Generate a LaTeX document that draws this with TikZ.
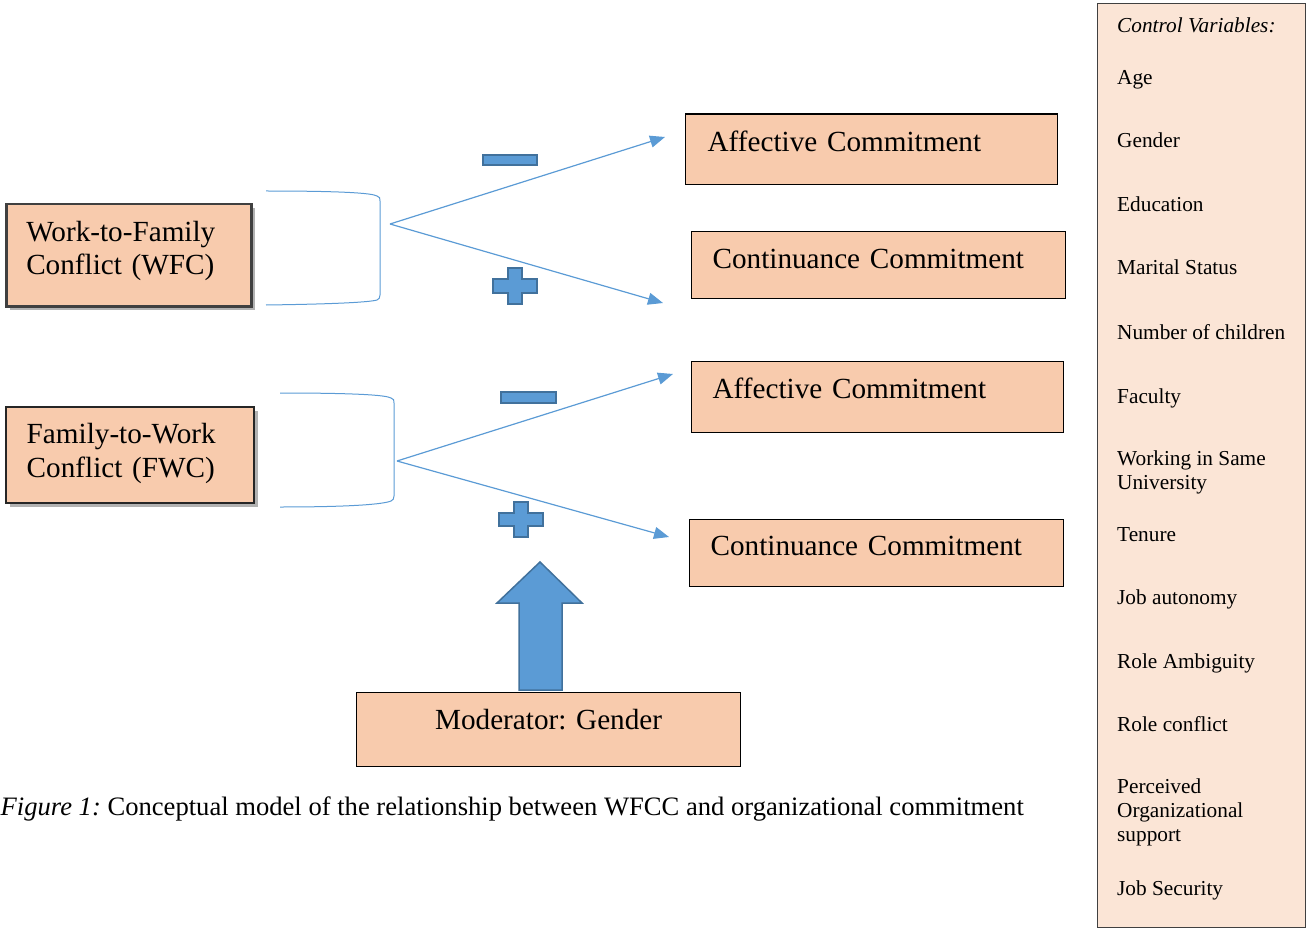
\documentclass[tikz,border=0pt]{standalone}
\usepackage{fontspec}
\setmainfont{Liberation Serif}
\usetikzlibrary{arrows.meta,shadows}
\definecolor{peach}{HTML}{F8CBAD}
\definecolor{lightpeach}{HTML}{FBE5D6}
\definecolor{mblue}{HTML}{5B9BD5}
\definecolor{dblue}{HTML}{41719C}
\definecolor{dgray}{HTML}{404040}
\begin{document}
\frenchspacing
\begin{tikzpicture}[x=1pt,y=-1pt,
  box/.style={draw=black, fill=peach, line width=1.2pt, inner ysep=0pt, align=left, anchor=north west, font=\fontsize{29.2}{33.5}\selectfont},
  shadowed/.style={drop shadow={shadow xshift=4pt, shadow yshift=-4pt, opacity=0.3, fill=black}},
  link/.style={draw=mblue, line width=1.2pt, -{Triangle[length=15pt,width=12pt]}},
  brace/.style={draw=mblue, line width=1pt},
  sign/.style={fill=mblue, draw=dblue, line width=1.5pt},
  ctext/.style={anchor=base west, align=left, inner sep=0pt, font=\fontsize{21.3}{24}\selectfont}]
\clip (0,0) rectangle (1307,928);
\useasboundingbox (0,0) rectangle (1307,928);

% left boxes
\node[box, shadowed, draw=dgray, line width=2.5pt, inner xsep=20pt, text width=205pt, text height=37pt, text depth=65pt] (wfc) at (5,203) {Work-to-Family\\Conflict (WFC)};
\node[box, shadowed, draw=black!85, line width=1.5pt, inner xsep=21pt, text width=206pt, text height=37pt, text depth=59pt] (fwc) at (5,406) {Family-to-Work\\Conflict (FWC)};

% right boxes
\node[box, inner xsep=22pt, text width=328pt, text height=37.2pt, text depth=33.3pt] (ac1) at (685,113.5) {Affective Commitment};
\node[box, inner xsep=21pt, text width=332pt, text height=36.7pt, text depth=30.3pt] (cc1) at (691,231) {Continuance Commitment};
\node[box, inner xsep=21pt, text width=330pt, text height=36.7pt, text depth=34.3pt] (ac2) at (691,361) {Affective Commitment};
\node[box, inner xsep=21pt, text width=332pt, text height=36pt, text depth=30.7pt] (cc2) at (689,519) {Continuance Commitment};

% moderator
\node[box, align=center, inner xsep=10pt, text width=364pt, text height=37pt, text depth=37.3pt] (mod) at (356,691.7) {Moderator: Gender};

% brackets
\draw[brace] (266,191) .. controls (340,191) and (372,193) .. (377,196) .. controls (380,197) and (380,198) .. (380,201) -- (380,295) .. controls (380,298) and (379,299) .. (377,300) .. controls (370,302) and (340,304) .. (266,305);
\draw[brace] (280,393) .. controls (354,393) and (386,395) .. (391,398) .. controls (394,399) and (394,400) .. (394,403) -- (394,496) .. controls (394,499) and (393,500) .. (391,501) .. controls (384,504) and (354,507) .. (280,507);

% arrows
\coordinate (apex1) at (390,224);
\coordinate (tip1a) at (665,137);
\coordinate (tip1b) at (663,303);
\coordinate (apex2) at (397,461);
\coordinate (tip2a) at (673,374);
\coordinate (tip2b) at (669,537);
\draw[link] (apex1) -- (tip1a);
\draw[link] (apex1) -- (tip1b);
\draw[link] (apex2) -- (tip2a);
\draw[link] (apex2) -- (tip2b);

% signs
\draw[sign] (483,155) rectangle (537,165);
\draw[sign] (508,268) -- (522,268) -- (522,279) -- (537,279) -- (537,293) -- (522,293) -- (522,304) -- (508,304) -- (508,293) -- (493,293) -- (493,279) -- (508,279) -- cycle;
\draw[sign] (501,392) rectangle (556,403);
\draw[sign] (514,502) -- (528,502) -- (528,513) -- (543,513) -- (543,526) -- (528,526) -- (528,537) -- (514,537) -- (514,526) -- (499,526) -- (499,513) -- (514,513) -- cycle;

% block arrow
\draw[sign] (540,562) -- (582,603) -- (562,603) -- (562,690) -- (519,690) -- (519,603) -- (497,603) -- cycle;

% caption
\node[anchor=base west, inner sep=0pt, font=\fontsize{26.6}{30}\selectfont] (cap) at (0.5,815.7) {\textit{Figure 1:} Conceptual model of the relationship between WFCC and organizational commitment};

% control variables
\node[draw=dgray, fill=lightpeach, line width=1.3pt, anchor=north west, inner sep=0pt, minimum width=208pt, minimum height=924pt] (ctrl) at (1097,3) {};
\node[ctext, font=\fontsize{21.3}{24}\selectfont\itshape] (cv0) at (1117,33) {Control Variables:};
\node[ctext] (cv1) at (1117,85) {Age};
\node[ctext] (cv2) at (1117,148) {Gender};
\node[ctext] (cv3) at (1117,212) {Education};
\node[ctext] (cv4) at (1117,275) {Marital Status};
\node[ctext] (cv5) at (1117,339) {Number of children};
\node[ctext] (cv6) at (1117,403) {Faculty};
\node[ctext] (cv7) at (1117,489) {Working in Same\\University};
\node[ctext] (cv8) at (1117,541) {Tenure};
\node[ctext] (cv9) at (1117,604) {Job autonomy};
\node[ctext] (cv10) at (1117,668) {Role Ambiguity};
\node[ctext] (cv11) at (1117,731) {Role conflict};
\node[ctext] (cv12) at (1117,841) {Perceived\\Organizational\\support};
\node[ctext] (cv13) at (1117,895) {Job Security};
\end{tikzpicture}
\end{document}
